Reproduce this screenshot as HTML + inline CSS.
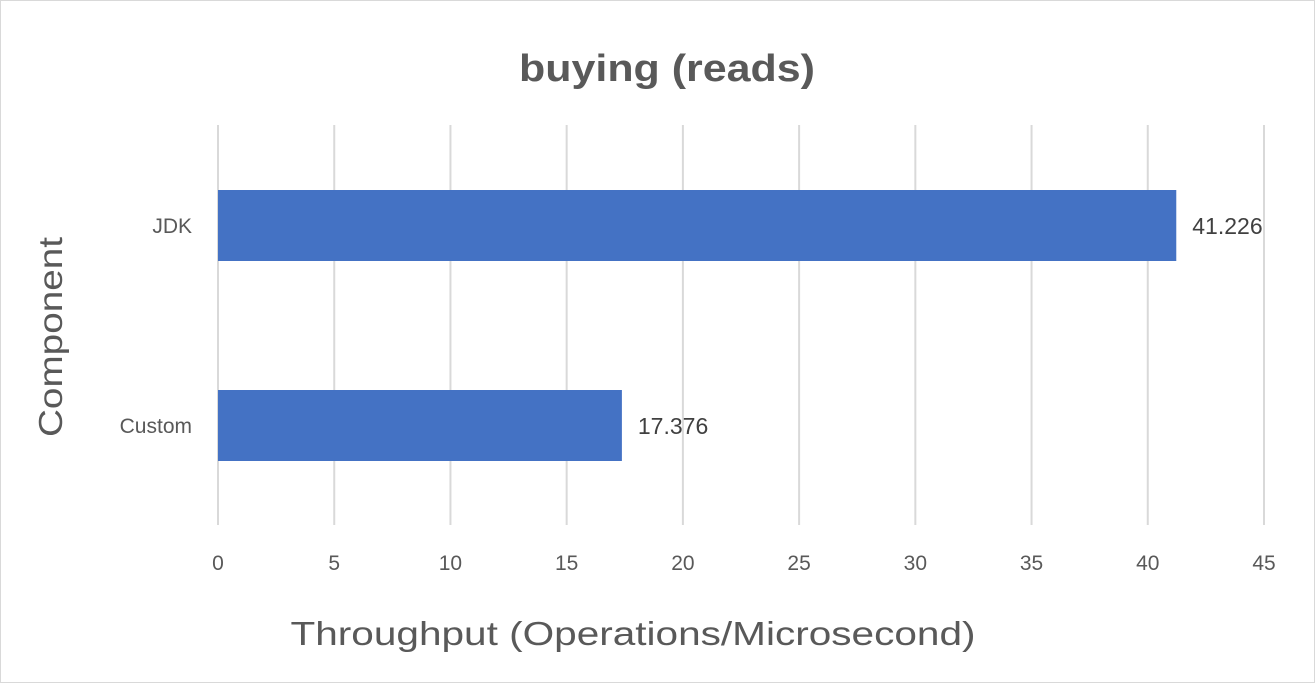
<!DOCTYPE html>
<html><head><meta charset="utf-8"><style>
body{margin:0;background:#fff;}
svg{display:block;font-family:"Liberation Sans",sans-serif;}
</style></head><body>
<svg id="chart" width="1315" height="683">
<rect x="0.5" y="0.5" width="1314" height="682" fill="#fff" stroke="#d9d9d9"/>
<text x="667" y="81" text-anchor="middle" font-size="38" font-weight="bold" fill="#595959" textLength="296" lengthAdjust="spacingAndGlyphs">buying (reads)</text>
<g id="grid"></g><g id="bars"></g><g id="labels"></g>
<text x="633" y="645" text-anchor="middle" font-size="33" fill="#595959" textLength="685" lengthAdjust="spacingAndGlyphs">Throughput (Operations/Microsecond)</text>
<text transform="translate(62,337) rotate(-90)" text-anchor="middle" font-size="33" fill="#595959" textLength="200" lengthAdjust="spacingAndGlyphs">Component</text>
</svg>
<script>
const categories=["JDK","Custom"];
const values=[41.226,17.376];
const ticks=[0,5,10,15,20,25,30,35,40,45];
const NS="http://www.w3.org/2000/svg";
const X0=218,X1=1264,XMAX=45,PLOT_TOP=125,PLOT_BOTTOM=525;
const xs=v=>X0+(X1-X0)*v/XMAX;
const BAND_TOP=125,BAND=200;
function mk(t,a,p){const e=document.createElementNS(NS,t);for(const k in a)e.setAttribute(k,a[k]);p.appendChild(e);return e;}
const g=document.getElementById('grid'),b=document.getElementById('bars'),l=document.getElementById('labels');
ticks.forEach(t=>{
 const ln=mk('line',{x1:xs(t),x2:xs(t),y1:PLOT_TOP,y2:PLOT_BOTTOM,stroke:'#d9d9d9','stroke-width':2},g);
 
 
 const tx=mk('text',{x:xs(t),y:570,'text-anchor':'middle','font-size':21,fill:'#595959'},l);
 tx.textContent=t;
 
 
});
categories.forEach((c,i)=>{
 const y=BAND_TOP+i*BAND+65;
 const r=mk('rect',{x:X0,y:y,width:xs(values[i])-X0,height:71,fill:'#4472c4'},b);
 
 
 const ct=mk('text',{x:192,y:y+43,'text-anchor':'end','font-size':21,fill:'#595959'},l);
 ct.textContent=c;
 
 
 const vt=mk('text',{x:xs(values[i])+16,y:y+44,'font-size':23,fill:'#404040'},l);
 vt.textContent=values[i].toFixed(3);
 
 
});
</script>
</body></html>
